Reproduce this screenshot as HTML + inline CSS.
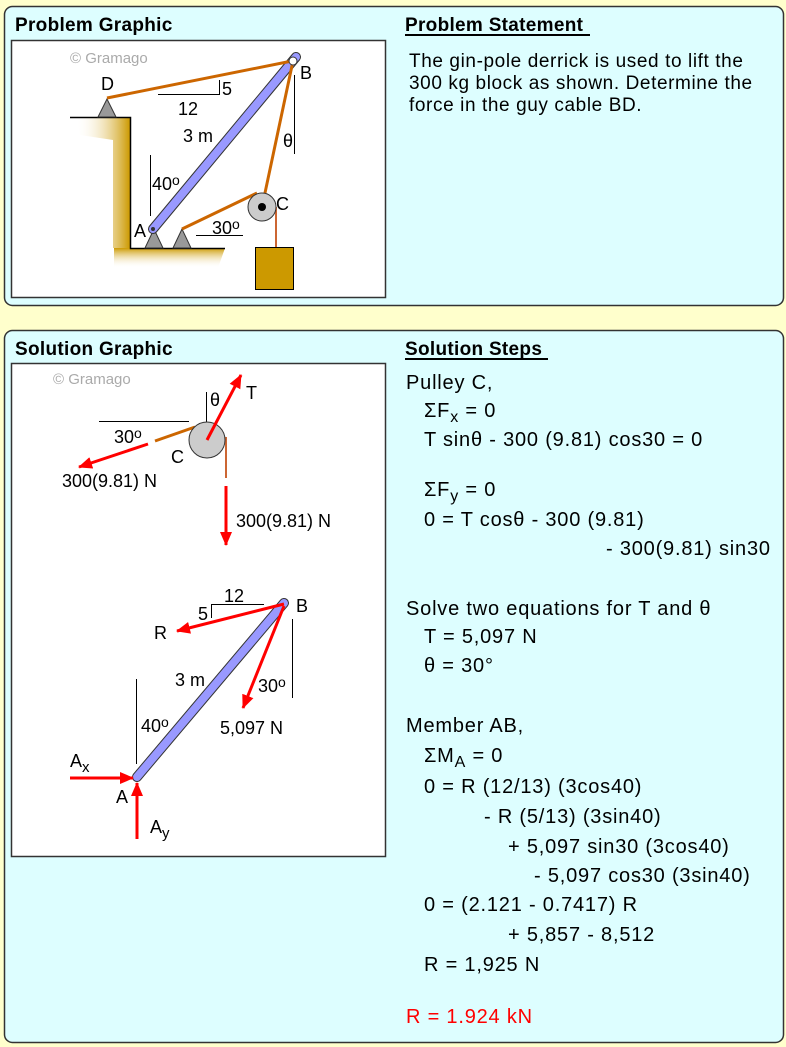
<!DOCTYPE html>
<html><head><meta charset="utf-8"><style>
body{margin:0;background:#ffffcc;}
svg{display:block;font-family:"Liberation Sans",Arial,sans-serif;}
</style></head><body>
<svg width="786" height="1047" viewBox="0 0 786 1047" xmlns="http://www.w3.org/2000/svg">
<defs>
<linearGradient id="gw" x1="0" x2="1" y1="0" y2="0"><stop offset="0" stop-color="#fff" stop-opacity="0"/><stop offset="1" stop-color="#cc9900"/></linearGradient>
<linearGradient id="gf" x1="0" x2="0" y1="0" y2="1"><stop offset="0" stop-color="#cc9900"/><stop offset="1" stop-color="#fff" stop-opacity="0"/></linearGradient>
<marker id="arb" markerWidth="14" markerHeight="12" refX="13" refY="6" orient="auto" markerUnits="userSpaceOnUse"><path d="M0,0 L14,6 L0,12 z" fill="#ff0000"/></marker>
</defs>
<rect x="4.5" y="6.5" width="779" height="299" rx="8" fill="#ddfeff" stroke="#333" stroke-width="1.5"/>
<rect x="4.5" y="330.5" width="779" height="712" rx="8" fill="#ddfeff" stroke="#333" stroke-width="1.5"/>
<g font-weight="bold" font-size="19" letter-spacing="0.3">
<text x="15" y="31">Problem Graphic</text>
<text x="405" y="31">Problem Statement</text>
<text x="15" y="355">Solution Graphic</text>
<text x="405" y="355">Solution Steps</text>
</g>
<line x1="405" y1="35" x2="590" y2="35" stroke="#000" stroke-width="2"/>
<line x1="405" y1="359" x2="548" y2="359" stroke="#000" stroke-width="2"/>
<rect x="11.5" y="40.5" width="374" height="257" fill="#fff" stroke="#333" stroke-width="1.5"/>
<rect x="11.5" y="363.5" width="374" height="493" fill="#fff" stroke="#333" stroke-width="1.5"/>
<g font-size="19" letter-spacing="0.6">
<text x="409" y="67">The gin-pole derrick is used to lift the</text>
<text x="409" y="89">300 kg block as shown. Determine the</text>
<text x="409" y="111">force in the guy cable BD.</text>
</g>
<!-- problem graphic -->
<text x="70" y="63" font-size="15" fill="#aaa">© Gramago</text>
<polygon points="76,118 130,118 130,248 113,248 113,140 80,135" fill="url(#gw)"/>
<polygon points="130,248 225,248 218,268 114,268 114,248" fill="url(#gf)"/>
<polyline points="70,117.5 130.5,117.5 130.5,248.5 225,248.5" fill="none" stroke="#000" stroke-width="1.5"/>
<polygon points="107,99 98,117 116,117" fill="#999" stroke="#333"/>
<polygon points="154,229 145,248 163,248" fill="#999" stroke="#333"/>
<polygon points="182,229 173,248 191,248" fill="#999" stroke="#333"/>
<line x1="153" y1="229" x2="296" y2="57" stroke="#333" stroke-width="10" stroke-linecap="round"/>
<line x1="153" y1="229" x2="296" y2="57" stroke="#9999ff" stroke-width="8" stroke-linecap="round"/>
<circle cx="153" cy="229" r="2" fill="#333"/>
<line x1="107" y1="98" x2="292" y2="61" stroke="#cc6600" stroke-width="3"/>
<line x1="293" y1="61" x2="262" y2="207" stroke="#cc6600" stroke-width="3"/>
<line x1="182" y1="229" x2="257" y2="193" stroke="#cc6600" stroke-width="3"/>
<circle cx="293" cy="61" r="4" fill="#fff" stroke="#333"/>
<line x1="276" y1="207" x2="276" y2="247" stroke="#cc6633" stroke-width="2"/>
<circle cx="262" cy="207" r="14" fill="#ccc" stroke="#333"/>
<circle cx="262" cy="207" r="4" fill="#000"/>
<rect x="255.5" y="247.5" width="38" height="42" fill="#cc9900" stroke="#000"/>
<g stroke="#000" stroke-width="1">
<polyline points="158,94.5 219.5,94.5 219.5,80" fill="none"/>
<line x1="294.5" y1="75" x2="294.5" y2="154"/>
<line x1="150.5" y1="155" x2="150.5" y2="216"/>
<line x1="196" y1="235.5" x2="243" y2="235.5"/>
</g>
<g font-size="18">
<text x="222" y="95">5</text><text x="178" y="115">12</text><text x="183" y="142">3 m</text>
<text x="283" y="147">θ</text><text x="152" y="190">40<tspan font-size="14" dy="-5">o</tspan></text>
<text x="134" y="237">A</text><text x="212" y="234">30<tspan font-size="14" dy="-5">o</tspan></text>
<text x="276" y="210">C</text><text x="300" y="79">B</text><text x="101" y="90">D</text>
</g>
<!-- solution top -->
<text x="53" y="384" font-size="15" fill="#aaa">© Gramago</text>
<line x1="206.5" y1="392" x2="206.5" y2="440" stroke="#000"/>
<line x1="99" y1="421.5" x2="189" y2="421.5" stroke="#000"/>
<line x1="155" y1="441" x2="195" y2="427" stroke="#cc6600" stroke-width="3"/>
<line x1="226" y1="437" x2="226" y2="478" stroke="#cc6633" stroke-width="2"/>
<circle cx="207" cy="440" r="18" fill="#ccc" stroke="#333"/>
<line x1="207" y1="440" x2="241" y2="375" stroke="#f00" stroke-width="3" marker-end="url(#arb)"/>
<line x1="148" y1="444" x2="79" y2="467" stroke="#f00" stroke-width="3" marker-end="url(#arb)"/>
<line x1="226" y1="486" x2="226" y2="545" stroke="#f00" stroke-width="3" marker-end="url(#arb)"/>
<g font-size="18">
<text x="210" y="406">θ</text><text x="246" y="399">T</text>
<text x="114" y="443">30<tspan font-size="14" dy="-5">o</tspan></text>
<text x="171" y="463">C</text><text x="62" y="487">300(9.81) N</text>
<text x="236" y="527">300(9.81) N</text>
</g>
<!-- solution bottom -->
<line x1="137" y1="777" x2="284" y2="603" stroke="#333" stroke-width="10" stroke-linecap="round"/>
<line x1="137" y1="777" x2="284" y2="603" stroke="#9999ff" stroke-width="8" stroke-linecap="round"/>
<g stroke="#000" stroke-width="1">
<polyline points="264,604.5 211.5,604.5 211.5,618" fill="none"/>
<line x1="292.5" y1="619" x2="292.5" y2="698"/>
<line x1="136.5" y1="679" x2="136.5" y2="764"/>
</g>
<line x1="284" y1="604" x2="177" y2="631" stroke="#f00" stroke-width="3" marker-end="url(#arb)"/>
<line x1="284" y1="606" x2="243" y2="708" stroke="#f00" stroke-width="3" marker-end="url(#arb)"/>
<line x1="70" y1="778" x2="133" y2="778" stroke="#f00" stroke-width="3" marker-end="url(#arb)"/>
<line x1="137" y1="839" x2="137" y2="783" stroke="#f00" stroke-width="3" marker-end="url(#arb)"/>
<g font-size="18">
<text x="224" y="602">12</text><text x="198" y="620">5</text><text x="154" y="639">R</text>
<text x="296" y="612">B</text><text x="258" y="692">30<tspan font-size="14" dy="-5">o</tspan></text>
<text x="220" y="734">5,097 N</text><text x="175" y="686">3 m</text>
<text x="141" y="732">40<tspan font-size="14" dy="-5">o</tspan></text>
<text x="70" y="767">A<tspan font-size="15" dy="5">x</tspan></text>
<text x="116" y="803">A</text>
<text x="150" y="833">A<tspan font-size="15" dy="5">y</tspan></text>
</g>
<!-- steps -->
<g font-size="20" letter-spacing="0.8">
<text x="406" y="389">Pulley C,</text>
<text x="424" y="417">ΣF<tspan font-size="16" dy="5">x</tspan><tspan dy="-5"> = 0</tspan></text>
<text x="424" y="446">T sinθ - 300 (9.81) cos30 = 0</text>
<text x="424" y="496">ΣF<tspan font-size="16" dy="5">y</tspan><tspan dy="-5"> = 0</tspan></text>
<text x="424" y="526">0 = T cosθ - 300 (9.81)</text>
<text x="606" y="555">- 300(9.81) sin30</text>
<text x="406" y="615">Solve two equations for T and θ</text>
<text x="424" y="643">T = 5,097 N</text>
<text x="424" y="672">θ = 30°</text>
<text x="406" y="732">Member AB,</text>
<text x="424" y="762">ΣM<tspan font-size="16" dy="5">A</tspan><tspan dy="-5"> = 0</tspan></text>
<text x="424" y="793">0 = R (12/13) (3cos40)</text>
<text x="484" y="823">- R (5/13) (3sin40)</text>
<text x="508" y="853">+ 5,097 sin30 (3cos40)</text>
<text x="534" y="882">- 5,097 cos30 (3sin40)</text>
<text x="424" y="911">0 = (2.121 - 0.7417) R</text>
<text x="508" y="941">+ 5,857 - 8,512</text>
<text x="424" y="971">R = 1,925 N</text>
<text x="406" y="1023" fill="#ff0000">R = 1.924 kN</text>
</g>
</svg>
</body></html>
